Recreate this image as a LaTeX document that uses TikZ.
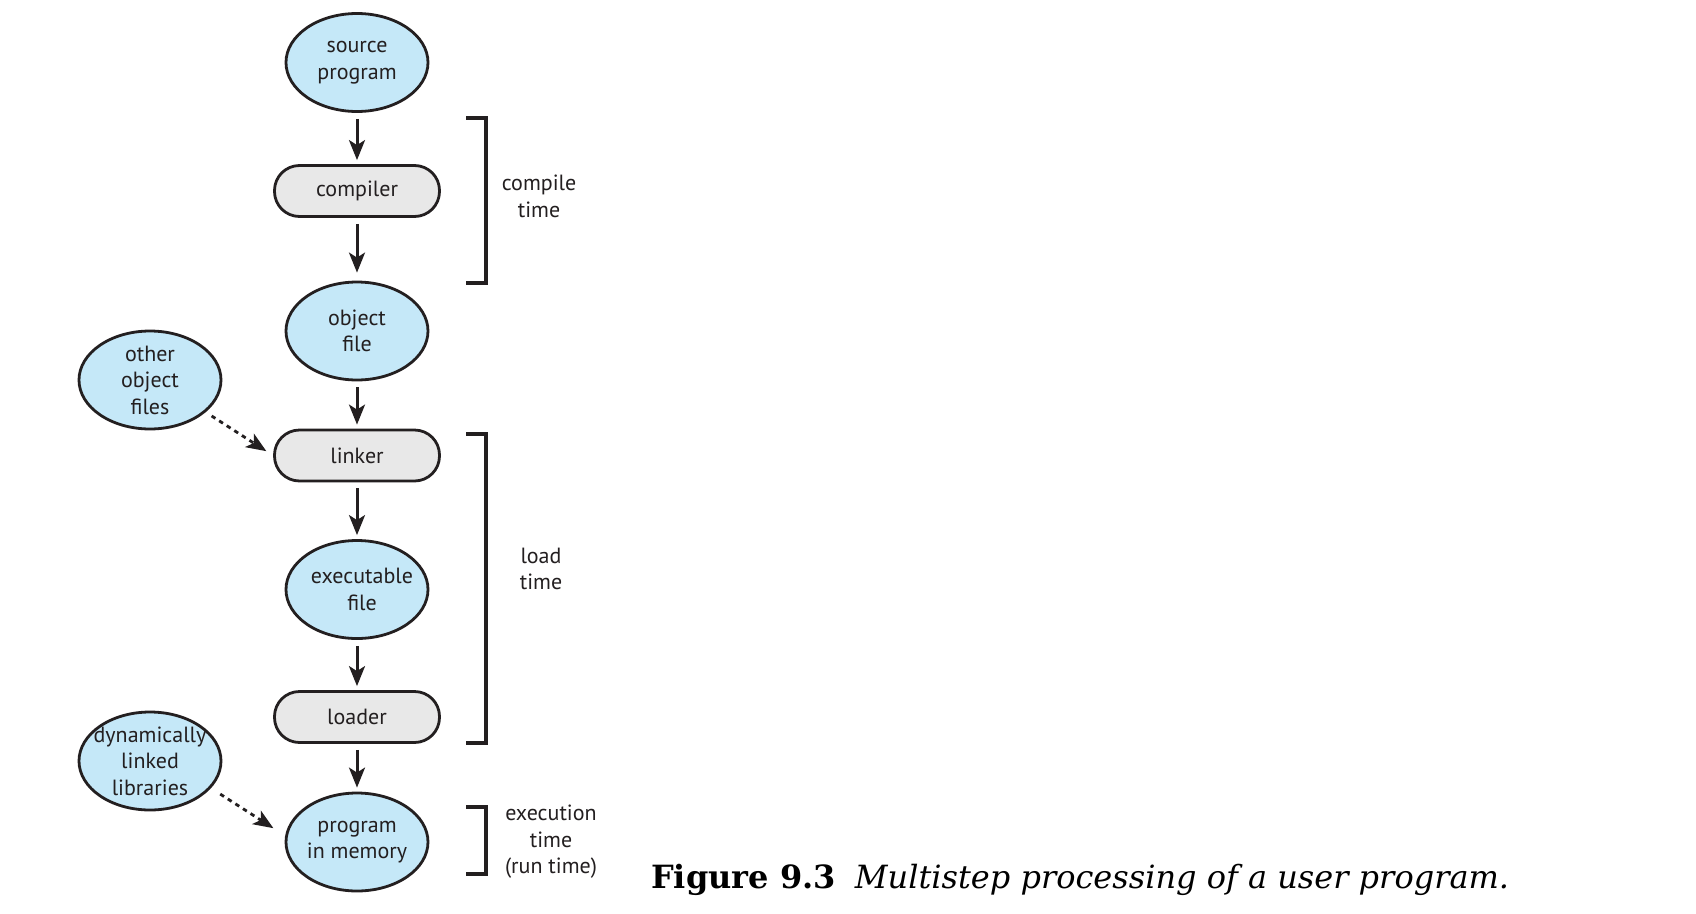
\documentclass[tikz,border=0pt]{standalone}
\usepackage{fontspec}
\setmainfont{PT Sans}
\newfontfamily\capfont{DejaVu Serif}
\usetikzlibrary{arrows.meta,shapes.geometric}
\definecolor{blu}{HTML}{C5E8F8}
\definecolor{gry}{HTML}{E8E8E8}
\definecolor{ink}{HTML}{231F20}
\begin{document}
\begin{tikzpicture}[x=1pt,y=-1pt,
  txt/.style={font=\fontsize{22}{26.5}\selectfont, text=ink, align=center, inner sep=0pt},
  ell/.style={ellipse, draw=ink, line width=2.8pt, fill=blu, minimum width=142pt, minimum height=98pt, inner sep=0pt},
  proc/.style={txt, rectangle, rounded corners=25pt, draw=ink, line width=2.8pt, fill=gry, minimum width=165pt, minimum height=51pt},
  arr/.style={draw=ink, line width=3pt, -{Stealth[length=20pt,width=16pt,inset=5pt]}, shorten <=6pt, shorten >=4pt},
  dsh/.style={draw=ink, line width=2.8pt, dash pattern=on 4.5pt off 4.5pt, -{Stealth[length=20pt,width=16pt,inset=5pt]}},
  brk/.style={draw=ink, line width=3.8pt, line join=miter},
  side/.style={txt}
]
\useasboundingbox[fill=white] (0,0) rectangle (1696,913);

\node[ell, label={[txt]center:source\\program}] (src) at (357,62.5) {};
\node[proc] (comp) at (357,191) {compiler};
\node[ell, label={[txt]center:object\\file}] (obj) at (357,331) {};
\node[ell, label={[txt]center:other\\object\\files}] (other) at (150,380) {};
\node[proc] (link) at (357,455.5) {linker};
\node[ell, label={[txt, xshift=5pt]center:executable\\file}] (exe) at (357,589.5) {};
\node[proc] (load) at (357,717) {loader};
\node[ell, label={[txt]center:dynamically\\linked\\libraries}] (dll) at (150,761) {};
\node[ell, label={[txt]center:program\\in memory}] (mem) at (357,842) {};

\draw[arr] (src) -- (comp);
\draw[arr, shorten >=8pt] (comp) -- (obj);
\draw[arr] (obj) -- (link);
\draw[arr] (link) -- (exe);
\draw[arr] (exe) -- (load);
\draw[arr] (load) -- (mem);
\draw[dsh, shorten <=7pt, shorten >=8pt] (other.-30) -- (link.west);
\draw[dsh, shorten <=11pt, shorten >=14pt] (dll.-24) -- (mem.175);

\coordinate (c1) at (466,117.7); \coordinate (c2) at (486,117.7);
\coordinate (c3) at (486,282.7); \coordinate (c4) at (466,282.7);
\draw[brk] (c1) -- (c2) -- (c3) -- (c4);
\coordinate (l1) at (466,434); \coordinate (l2) at (486,434);
\coordinate (l3) at (486,742.7); \coordinate (l4) at (466,742.7);
\draw[brk] (l1) -- (l2) -- (l3) -- (l4);
\coordinate (e1) at (466,806.7); \coordinate (e2) at (486,806.7);
\coordinate (e3) at (486,874); \coordinate (e4) at (466,874);
\draw[brk] (e1) -- (e2) -- (e3) -- (e4);

\node[side] (ct) at (539,196.5) {compile\\time};
\node[side] (lt) at (541,569) {load\\time};
\node[side] (et) at (551,842) {execution\\time\\(run time)};

\node[anchor=base west, inner sep=0pt, text=black] (cap) at (651,888)
  {\capfont\fontsize{32}{38}\selectfont\textbf{Figure 9.3}\hspace{0.6em}\textit{Multistep processing of a user program.}};
\end{tikzpicture}
\end{document}
